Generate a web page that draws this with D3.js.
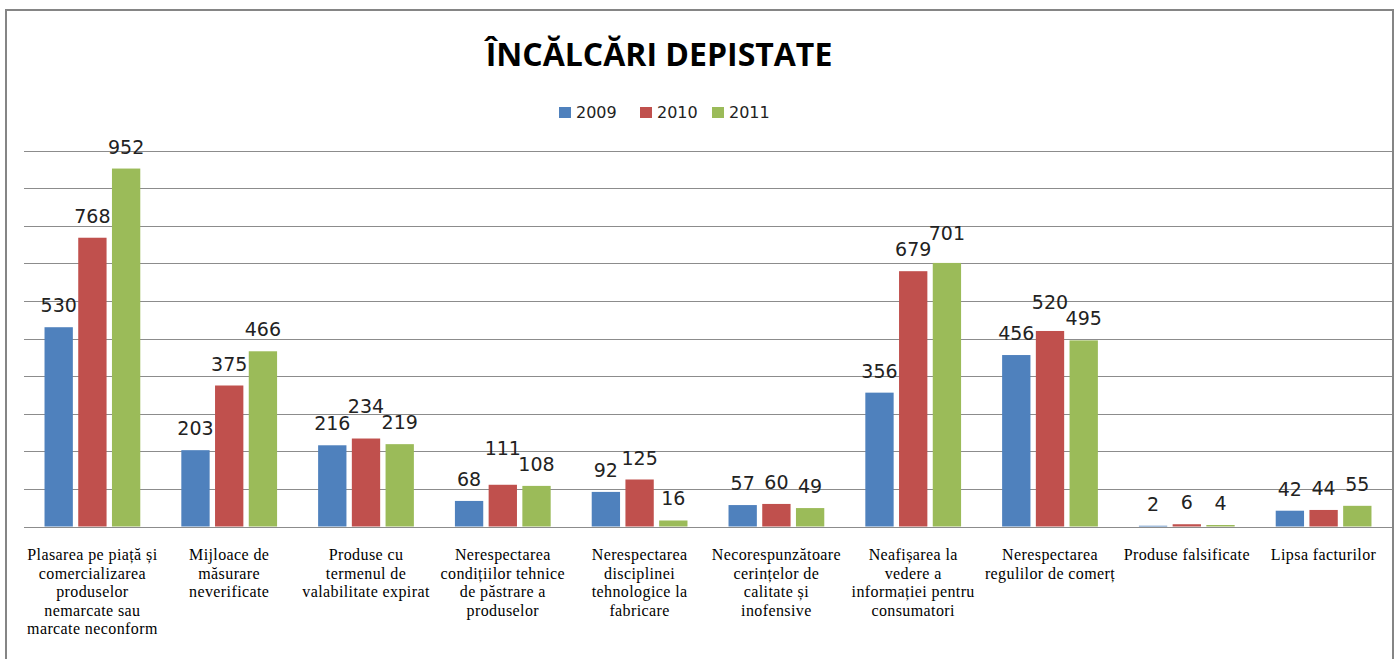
<!DOCTYPE html>
<html>
<head>
<meta charset="utf-8">
<script src="https://cdn.jsdelivr.net/npm/d3@7"></script>
<style>
	body { margin: 0; background: #fff; }
	svg { display: block; }
</style>
</head>
<body>
<div id="chart"></div>
<script>
'use strict';

// categories (x axis), already broken into lines as in the picture
var categories = [
	["Plasarea pe piață și", "comercializarea", "produselor", "nemarcate sau", "marcate neconform"],
	["Mijloace de", "măsurare", "neverificate"],
	["Produse cu", "termenul de", "valabilitate expirat"],
	["Nerespectarea", "condițiilor tehnice", "de păstrare a", "produselor"],
	["Nerespectarea", "disciplinei", "tehnologice la", "fabricare"],
	["Necorespunzătoare", "cerințelor de", "calitate și", "inofensive"],
	["Neafișarea la", "vedere a", "informației pentru", "consumatori"],
	["Nerespectarea", "regulilor de comerț"],
	["Produse falsificate"],
	["Lipsa facturilor"]
];

var years = ["2009", "2010", "2011"];

var values2009 = [530, 203, 216, 68, 92, 57, 356, 456, 2, 42];
var values2010 = [768, 375, 234, 111, 125, 60, 679, 520, 6, 44];
var values2011 = [952, 466, 219, 108, 16, 49, 701, 495, 4, 55];

var yTicks = [0, 100, 200, 300, 400, 500, 600, 700, 800, 900, 1000];

var colours = ["#4F81BD", "#C0504D", "#9BBB59"];
var series = [values2009, values2010, values2011];

var width = 1400;
var height = 659;

// label sizing, used to keep value labels from piling on each other
var digitWidth = 12.1;
var labelGap = 16;
var labelOffset = 15;

var svg = d3.select("#chart").append("svg")
	.attr("width", width)
	.attr("height", height);

// outer frame
svg.append("rect")
	.attr("x", 6)
	.attr("y", 10)
	.attr("width", 1387)
	.attr("height", 670)
	.attr("fill", "none")
	.attr("stroke", "#858585")
	.attr("stroke-width", 2);

var keys = categories.map(function (c, i) { return i; });

var x0 = d3.scaleBand()
	.domain(keys)
	.range([24, 1392])
	.paddingInner(0.3)
	.paddingOuter(0.15);

var x1 = d3.scaleBand()
	.domain(years)
	.range([0, x0.bandwidth()])
	.paddingInner(0.16);

var y = d3.scaleLinear()
	.domain([0, 1000])
	.range([526.5, 150.5]);

// gridlines
svg.append("g")
	.attr("class", "grid")
	.selectAll("line")
	.data(yTicks)
	.enter()
	.append("line")
	.attr("x1", 24)
	.attr("x2", 1392)
	.attr("y1", function (d) { return Math.round(y(d)) + 0.5; })
	.attr("y2", function (d) { return Math.round(y(d)) + 0.5; })
	.attr("stroke", "#8c8c8c")
	.attr("stroke-width", 1);

// one record per bar
function groupData(k) {
	var items = years.map(function (yr, j) {
		return {
			year: yr,
			value: series[j][k],
			colour: colours[j],
			cx: x1(yr) + x1.bandwidth() / 2,
			w: String(series[j][k]).length * digitWidth,
			base: y(series[j][k]) - labelOffset
		};
	});

	// lift a label above its neighbours when they would collide
	var placed = [];
	items.slice().sort(function (a, b) { return a.value - b.value; })
		.forEach(function (it) {
			placed.forEach(function (p) {
				var overlapX = Math.abs(it.cx - p.cx) < (it.w + p.w) / 2;
				if (overlapX && Math.abs(it.base - p.base) < labelGap) {
					it.base = Math.min(it.base, p.base - labelGap);
				}
			});
			placed.push(it);
		});

	return items;
}

// bars
var groups = svg.append("g")
	.selectAll(".group")
	.data(keys.map(function (k) { return { key: k, items: groupData(k) }; }))
	.enter()
	.append("g")
	.attr("class", "group")
	.attr("transform", function (g) {
		return "translate(" + x0(g.key) + ",0)";
	});

groups.selectAll("rect")
	.data(function (g) { return g.items; })
	.enter()
	.append("rect")
	.attr("x", function (d) { return x1(d.year); })
	.attr("y", function (d) { return y(d.value); })
	.attr("width", x1.bandwidth())
	.attr("height", function (d) { return y(0) - y(d.value); })
	.attr("fill", function (d) { return d.colour; });

// value labels
groups.selectAll(".value-label")
	.data(function (g) { return g.items; })
	.enter()
	.append("text")
	.attr("class", "value-label")
	.attr("x", function (d) { return d.cx; })
	.attr("y", function (d) { return d.base; })
	.attr("text-anchor", "middle")
	.attr("font-family", "DejaVu Sans")
	.attr("font-size", "19px")
	.attr("fill", "#222")
	.text(function (d) { return d.value; });

// category labels
var catLabels = svg.append("g")
	.selectAll(".cat")
	.data(keys)
	.enter()
	.append("text")
	.attr("class", "cat")
	.attr("x", function (k) { return x0(k) + x0.bandwidth() / 2; })
	.attr("y", 560)
	.attr("text-anchor", "middle")
	.attr("font-family", "Liberation Serif")
	.attr("font-size", "16px")
	.attr("letter-spacing", "0.4px")
	.attr("fill", "#000");

catLabels.selectAll("tspan")
	.data(function (k) { return categories[k]; })
	.enter()
	.append("tspan")
	.attr("x", function () {
		return d3.select(this.parentNode).attr("x");
	})
	.attr("dy", function (d, i) { return i === 0 ? 0 : 18.6; })
	.text(function (d) { return d; });

// title
svg.append("text")
	.attr("x", 659)
	.attr("y", 66)
	.attr("text-anchor", "middle")
	.attr("font-family", "Open Sans")
	.attr("font-weight", "bold")
	.attr("font-size", "32px")
	.attr("fill", "#000")
	.text("ÎNCĂLCĂRI DEPISTATE");

// legend
var legendX = [559, 640, 712];
var legend = svg.append("g")
	.selectAll(".legend")
	.data(years)
	.enter()
	.append("g")
	.attr("class", "legend")
	.attr("transform", function (d, i) {
		return "translate(" + legendX[i] + ",106)";
	});

legend.append("rect")
	.attr("width", 12)
	.attr("height", 11)
	.attr("y", 1)
	.attr("fill", function (d, i) { return colours[i]; });

legend.append("text")
	.attr("x", 17)
	.attr("y", 12)
	.attr("font-family", "DejaVu Sans")
	.attr("font-size", "16px")
	.attr("fill", "#222")
	.text(function (d) { return d; });
</script>
</body>
</html>
